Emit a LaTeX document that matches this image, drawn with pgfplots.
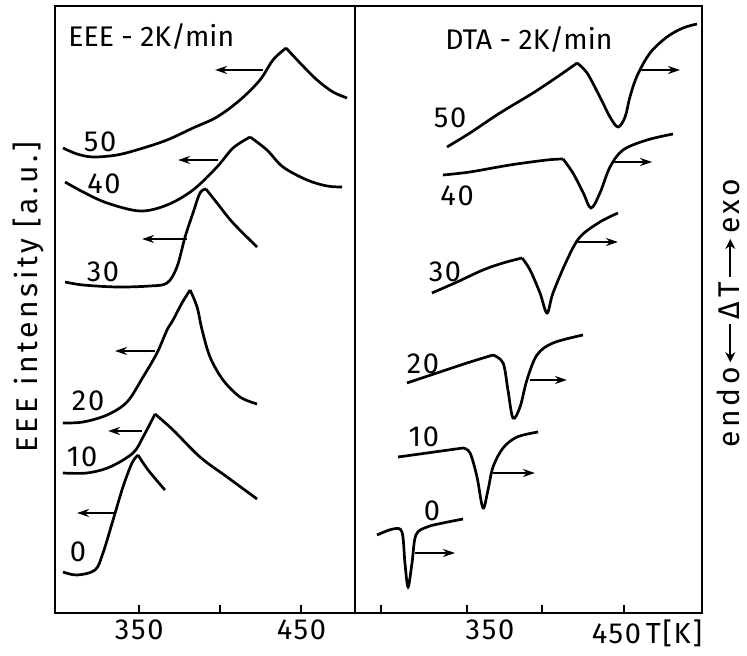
\documentclass[border=0pt]{standalone}
\usepackage{pgfplots}
\pgfplotsset{compat=1.18}
\usetikzlibrary{arrows.meta}
\usepackage{fontspec}
\setmainfont[LetterSpace=6]{Fira Sans}
\newfontfamily\plainfont{Fira Sans}
\newfontfamily\widefont[LetterSpace=12]{Fira Sans}
\tikzset{lab/.style={font=\fontsize{14.5}{16}\selectfont, inner sep=0pt}}
\newcommand{\harrow}[1]{\tikz[baseline=-0.6ex]\draw[line width=1.1pt,#1] (0,0)--(19pt,0);}
\begin{document}
\begin{tikzpicture}
\useasboundingbox (0,0) rectangle (373.5pt,328pt);
\pgfplotsset{
 panel/.style={scale only axis, height=303.5pt, ymin=43, ymax=650, ytick=\empty,
   axis line style={line width=1pt}, tick align=inside, xtick pos=left,
   major tick length=4pt, tick style={line width=1pt, black}, clip=false,
   anchor=south west, /pgf/number format/assume math mode=true,
   ticklabel style={font=\fontsize{14.5}{16}\selectfont}},
 crv/.style={black, line width=1.35pt, smooth, tension=0.55, no markers},
 arr/.style={black, line width=1pt, no markers, -{Stealth[length=6pt,width=4pt]}},
}
% ---------------- EEE panel ----------------
\begin{axis}[panel, at={(27.5pt,21.5pt)}, width=150pt, xmin=298, xmax=483,
  xtick={350,400,450}, xticklabels={350,,450},
  ylabel={EEE intensity [a.u.]},
  ylabel style={at={(axis description cs:-0.09,0.52)}, anchor=center, inner sep=0pt, font=\widefont\fontsize{15}{17}\selectfont}]
% 50
\addplot[crv] coordinates {(302.9,508)(311.6,502)(321.4,499)(336.2,501)(350.4,507)(367.1,516)(383.1,528)(397.9,539)(412.1,556)(424.4,576)(432.4,596)(440.5,608)};
\addplot[crv] coordinates {(440.5,608)(449.1,593)(459.6,576)(469.4,564)(478.1,558)};
\addplot[arr] coordinates {(426.3,586)(396.7,586)};
% 40
\addplot[crv] coordinates {(304.2,474)(315.3,464)(330.1,453)(350.4,445)(367.1,451)(383.1,466)(397.9,489)(407.8,508)(418.3,519)};
\addplot[crv] coordinates {(418.3,519)(428.7,506)(438.6,489)(453.4,476)(465.7,470)(475.0,469)};
\addplot[arr] coordinates {(398.5,496)(373.9,496)};
% 30
\addplot[crv] coordinates {(304.2,374)(315.3,371)(336.2,369)(356.6,370)(367.1,373)(373.2,389)(378.2,419)(383.1,443)(387.4,463)(391.1,467)};
\addplot[crv] coordinates {(391.1,467)(397.9,453)(407.8,433)(422.6,409)};
\addplot[arr] coordinates {(379.4,417)(351.7,417)};
% 20
\addplot[crv] coordinates {(302.9,233)(315.3,234)(330.1,241)(342.4,254)(352.3,279)(360.9,303)(367.1,326)(370.8,336)(376.3,353)(381.3,366)};
\addplot[crv] coordinates {(381.3,366)(385.6,349)(388.7,326)(393.6,299)(401.6,276)(412.1,259)(422.6,252)};
\addplot[arr] coordinates {(359.7,305)(335.0,305)};
% 10
\addplot[crv] coordinates {(302.9,183)(317.7,183)(331.9,189)(346.1,203)(352.3,219)(359.7,242)};
\addplot[crv] coordinates {(359.7,242)(370.8,226)(387.4,199)(404.1,179)(422.6,157)};
\addplot[arr] coordinates {(351.7,225)(330.7,225)};
% 0
\addplot[crv] coordinates {(302.9,84)(311.6,81)(322.7,86)(327.6,103)(333.8,136)(339.9,169)(345.5,193)(349.2,201)};
\addplot[crv] coordinates {(349.2,201)(355.4,186)(365.8,166)};
\addplot[arr] coordinates {(335.0,143)(311.6,143)};
% labels
\node[lab] at (axis cs:325.8,514) {50};
\node[lab] at (axis cs:328.2,472) {40};
\node[lab] at (axis cs:327.6,384) {30};
\node[lab] at (axis cs:318.4,255) {20};
\node[lab] at (axis cs:314.7,199) {10};
\node[lab] at (axis cs:312.2,104) {0};
\node[anchor=west, inner sep=0pt, font=\plainfont\fontsize{14.2}{16}\selectfont] at (axis cs:306,619) {EEE - 2K/min};
\end{axis}
% ---------------- DTA panel ----------------
\begin{axis}[panel, at={(177.5pt,21.5pt)}, width=173.5pt, xmin=278.7, xmax=499.7,
  xtick={295,350,398,450}, xticklabels={,350,,450\,T[K]},
  xticklabel style={xshift=11.5pt},
  ylabel={endo\hspace{2pt}\harrow{{Stealth[length=5pt,width=5pt]}-}\hspace{2pt}Δ\hspace{2pt}T\hspace{2pt}\harrow{-{Stealth[length=5pt,width=5pt]}}\hspace{2pt}exo},
  ylabel style={at={(axis description cs:1.077,0.494)}, anchor=center, inner sep=0pt, font=\widefont\fontsize{15}{17}\selectfont}]
% 50
\addplot[crv] coordinates {(337.3,509)(351.9,523)(371.0,543)(392.1,563)(409.3,581)(420.1,593)};
\addplot[crv] coordinates {(420.1,593)(426.5,583)(434.7,559)(441.1,539)(446.2,529)(450.7,539)(453.8,559)(458.3,580)(466.6,603)(477.4,619)(487.6,628)(496.5,632)};
\addplot[arr] coordinates {(460.2,586)(485.7,586)};
% 40
\addplot[crv] coordinates {(334.7,481)(351.9,484)(377.4,491)(401.0,496)(411.2,497)};
\addplot[crv] coordinates {(411.2,497)(417.5,483)(424.1,463)(429.0,448)(434.7,463)(441.1,489)(449.4,506)(464.7,516)(481.2,522)};
\addplot[arr] coordinates {(443.0,494)(467.9,494)};
% 30
\addplot[crv] coordinates {(327.7,363)(343.7,374)(360.2,386)(373.0,393)(385.1,398)};
\addplot[crv] coordinates {(385.1,398)(390.2,386)(396.5,363)(401.0,343)(404.8,363)(413.7,396)(422.0,419)(434.7,434)(446.2,443)};
\addplot[arr] coordinates {(420.1,414)(446.2,414)};
% 20
\addplot[crv] coordinates {(311.8,273)(330.9,283)(350.0,293)(366.6,301)};
\addplot[crv] coordinates {(366.6,301)(373.0,293)(376.1,266)(379.3,238)(383.8,249)(388.2,276)(394.6,301)(404.8,313)(423.9,321)};
\addplot[arr] coordinates {(390.2,276)(413.7,276)};
% 10
\addplot[crv] coordinates {(306.1,199)(324.6,203)(347.5,208)};
\addplot[crv] coordinates {(347.5,208)(352.0,203)(356.4,179)(360.2,148)(363.4,166)(366.6,189)(373.0,208)(381.9,219)(395.3,224)};
\addplot[arr] coordinates {(366.6,183)(393.3,183)};
% 0
\addplot[crv] coordinates {(292.7,121)(302.9,127)(308.6,124)(310.5,93)(312.5,69)(315.0,93)(317.5,121)(324.6,129)(334.7,133)(347.5,137)};
\addplot[arr] coordinates {(316.9,103)(342.4,103)};
% labels
\node[lab] at (axis cs:339.2,538) {50};
\node[lab] at (axis cs:343.7,460) {40};
\node[lab] at (axis cs:336.0,384) {30};
\node[lab] at (axis cs:322.0,292) {20};
\node[lab] at (axis cs:322.6,219) {10};
\node[lab] at (axis cs:327.7,145) {0};
\node[anchor=west, inner sep=0pt, font=\plainfont\fontsize{14.2}{16}\selectfont] at (axis cs:336,616) {DTA - 2K/min};
\end{axis}
\end{tikzpicture}
\end{document}
